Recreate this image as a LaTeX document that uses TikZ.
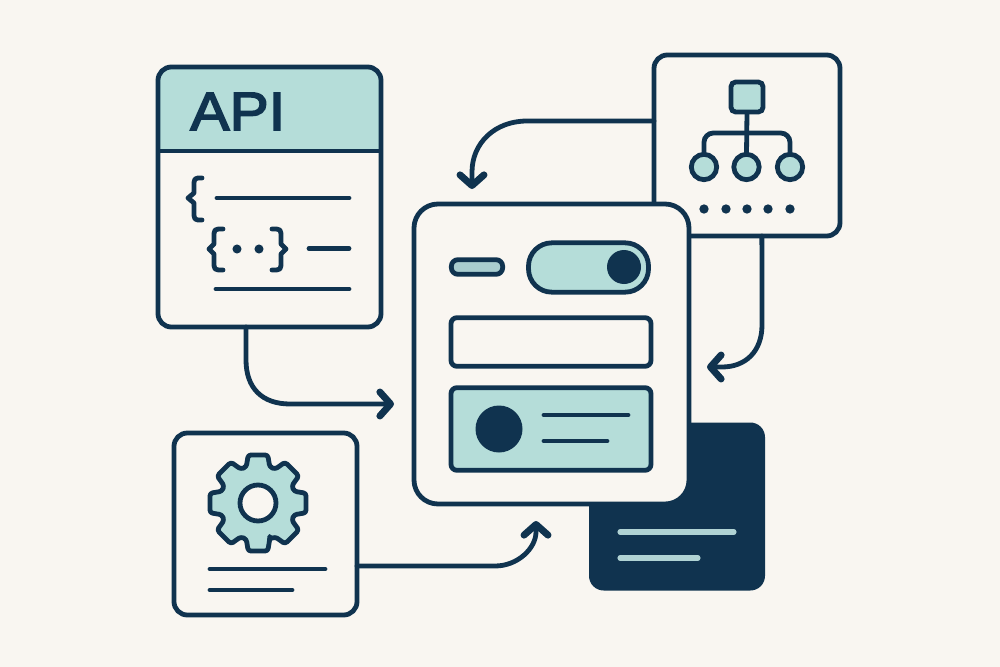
\documentclass[tikz,border=0pt]{standalone}
\usepackage{fontspec}
\setmainfont{Liberation Sans}
\newfontfamily\apifont[FakeStretch=1.09,FakeBold=3]{Liberation Sans}
\usetikzlibrary{arrows.meta,calc}
\definecolor{paper}{HTML}{F9F6F1}
\definecolor{navy}{HTML}{10334F}
\definecolor{mint}{HTML}{B5DDD9}
\definecolor{pillmint}{HTML}{A9CDCF}
\definecolor{softmint}{HTML}{B0D3D4}
\tikzset{
  x=0.75pt,y=-0.75pt,
  ink/.style={draw=navy,line width=3.6pt},
  panel/.style={ink,inner sep=0pt,outer sep=0pt,rectangle,rounded corners=10pt},
  rule/.style={draw=navy,line width=3.6pt,line cap=round},
  softrule/.style={draw=softmint,line width=3.8pt,line cap=round},
  bracket/.style={draw=navy,line width=3.6pt,line cap=round,line join=round},
  flow/.style={ink,line cap=round,-{Straight Barb[length=8pt,width=18pt,line width=5.2pt,round]}},
  dot/.style={circle,fill=navy,inner sep=0pt,outer sep=0pt,minimum size=6.8pt},
  ring/.style={circle,ink,fill=mint,inner sep=0pt,outer sep=0pt,minimum size=19pt},
}
\newcommand{\curlyleft}[6]{% end, stem, tip, top, mid, bottom
  \draw[bracket] (#1,#4) .. controls (#2,#4) and (#2,#4) .. (#2,#4+9) -- (#2,#5-5) -- (#3,#5) -- (#2,#5+5) -- (#2,#6-9) .. controls (#2,#6) and (#2,#6) .. (#1,#6);}
\begin{document}
\begin{tikzpicture}
\useasboundingbox (0,0) rectangle (1000,667);
\fill[paper] (0,0) rectangle (1000,667);

% API card
\fill[mint] (158,151) [rounded corners=10pt] -- (158,67) -- (381,67) [sharp corners] -- (381,151) -- cycle;
\node[panel,minimum width=167.25pt,minimum height=195pt] (api) at (269.5,197) {};
\draw[ink] (api.west |- 0,151) -- (api.east |- 0,151);
\node[anchor=base west,inner sep=0pt,text=navy,font=\apifont\fontsize{40.5}{41}\selectfont] (apilabel) at (190,130) {API};
\curlyleft{202}{194}{188}{178}{198}{220}
\curlyleft{223}{214}{209}{229}{249}{270}
\curlyleft{272}{281}{286}{229}{249}{270}
\node[dot] (apidot1) at (237,249) {};
\node[dot] (apidot2) at (259,249) {};
\draw[rule] (217,198) -- (349,198);
\draw[rule] (309,248.5) -- (349,248.5);
\draw[rule] (216,289) -- (349,289);

% Network card
\node[panel,fill=paper,minimum width=139.5pt,minimum height=135.75pt] (net) at (747,145.5) {};
\node[ink,fill=mint,rectangle,rounded corners=3.5pt,inner sep=0pt,outer sep=0pt,minimum width=24pt,minimum height=22.5pt] (root) at (747,97) {};
\node[ring] (leafa) at (704,167) {};
\node[ring] (leafb) at (746.5,167) {};
\node[ring] (leafc) at (790,167) {};
\draw[ink] (root.south) -- (leafb.north);
\draw[ink,rounded corners=7pt] (leafa.north) -- (leafa.north |- 0,133) -- (leafc.north |- 0,133) -- (leafc.north);
\foreach \n/\px in {1/704,2/726,3/747,4/768,5/790}
  \node[dot,minimum size=7pt] (netdot\n) at (\px,209) {};

% Gear card
\node[panel,minimum width=137.25pt,minimum height=136.5pt] (gearcard) at (265.5,524) {};
\begin{scope}[shift={(258,503)}]
  \draw[ink,fill=mint,line join=round,rounded corners=2pt]
    (72:38)
    \foreach \a in {90,135,...,405}{
      -- (\a-18:38) -- (\a-11.5:49) -- (\a+11.5:49) -- (\a+18:38)
    } -- cycle;
  \node[circle,ink,fill=paper,inner sep=0pt,outer sep=0pt,minimum size=27pt] (gearhole) at (0,0) {};
\end{scope}
\draw[rule] (210,569) -- (325,569);
\draw[rule] (210,590) -- (292,590);

% Dark card
\node[rectangle,fill=navy,rounded corners=11pt,inner sep=0pt,outer sep=0pt,minimum width=132pt,minimum height=126pt] (dark) at (677,506.5) {};
\draw[softrule] (620,532) -- (734,532);
\draw[softrule] (620,558) -- (698,558);

% Main card
\node[panel,fill=paper,rounded corners=18pt,minimum width=206.25pt,minimum height=225pt] (main) at (551.5,354) {};
\node[ink,fill=pillmint,rectangle,rounded corners=5pt,inner sep=0pt,outer sep=0pt,minimum width=38.5pt,minimum height=11pt] (pill) at (477,267) {};
\node[ink,fill=mint,rectangle,rounded corners=17.5pt,inner sep=0pt,outer sep=0pt,minimum width=90pt,minimum height=37pt] (toggle) at (588.5,267.5) {};
\node[circle,fill=navy,inner sep=0pt,outer sep=0pt,minimum size=25.5pt] (knob) at (624,267) {};
\node[ink,rectangle,rounded corners=4.5pt,inner sep=0pt,outer sep=0pt,minimum width=150pt,minimum height=36.5pt] (field) at (551,342) {};
\node[ink,fill=mint,rectangle,rounded corners=4.5pt,inner sep=0pt,outer sep=0pt,minimum width=150pt,minimum height=62pt] (item) at (551,429) {};
\node[circle,fill=navy,inner sep=0pt,outer sep=0pt,minimum size=35.25pt] (avatar) at (499,429) {};
\draw[rule] (544,415) -- (628,415);
\draw[rule] (544,441) -- (607,441);

% Connectors
\coordinate (tipnet) at (472,189);
\coordinate (tipside) at (707,367);
\coordinate (tipgear) at (536,521);
\coordinate (tipapi) at (394,404);
\draw[flow] ($(net.north west)!0.365!(net.south west)$) -- (527,121) .. controls (495,121) and (472,143) .. (472,172) -- (tipnet);
\draw[flow] ($(net.south west)!0.58!(net.south east)$) -- (762,325) .. controls (762,352) and (745,367) .. (722,367) -- (tipside);
\draw[flow] ($(gearcard.north east)!0.731!(gearcard.south east)$) -- (495,566) .. controls (518,566) and (536,548) .. (536,532) -- (tipgear);
\draw[flow] ($(api.south west)!0.395!(api.south east)$) -- (246,360) .. controls (246,388) and (262,404) .. (290,404) -- (tipapi);
\end{tikzpicture}
\end{document}
